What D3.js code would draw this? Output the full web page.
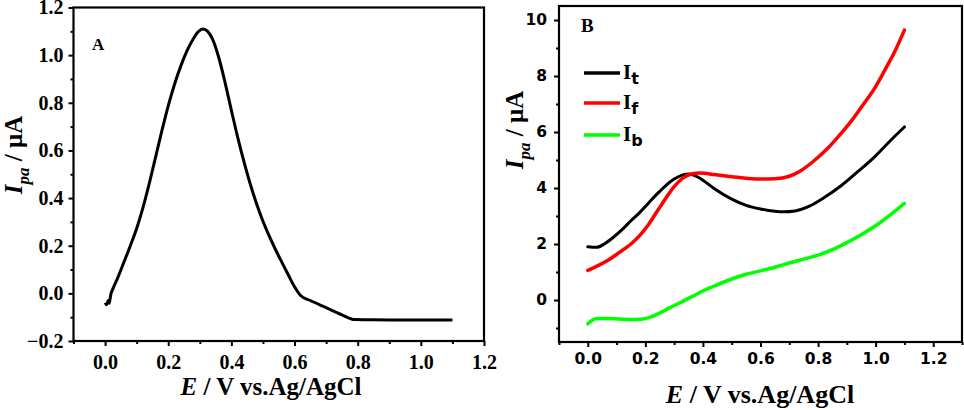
<!DOCTYPE html>
<html><head><meta charset="utf-8">
<script src="https://cdn.jsdelivr.net/npm/d3@7"></script>
<style>
html,body{margin:0;padding:0;background:#fff;}
svg{display:block;}
</style></head>
<body>
<svg id="chart" width="964" height="410"></svg>
<script>
// ---------- Panel A data ----------
const aE = [0.000,0.005,0.010,0.013,0.018,0.025,0.040,0.060,0.080,0.100,0.120,0.140,0.160,0.180,0.200,0.220,0.240,0.260,0.280,0.295,0.310,0.325,0.340,0.360,0.380,0.400,0.420,0.440,0.460,0.480,0.500,0.520,0.540,0.560,0.580,0.600,0.620,0.650,0.700,0.750,0.790,0.850,0.950,1.100];
const aI = [-0.040,-0.048,-0.030,-0.042,-0.005,0.020,0.065,0.132,0.200,0.272,0.360,0.462,0.572,0.683,0.787,0.878,0.955,1.020,1.070,1.098,1.110,1.100,1.068,0.990,0.885,0.768,0.655,0.552,0.458,0.375,0.303,0.240,0.183,0.130,0.078,0.028,-0.010,-0.030,-0.060,-0.090,-0.110,-0.111,-0.112,-0.112];

// ---------- Panel B data ----------
const tE = [0,0.03,0.06,0.09,0.12,0.15,0.18,0.21,0.24,0.27,0.30,0.33,0.35,0.37,0.40,0.44,0.50,0.55,0.60,0.65,0.68,0.72,0.77,0.82,0.88,0.94,1.00,1.05,1.10];
const tI = [1.90,1.88,2.02,2.25,2.52,2.83,3.12,3.45,3.78,4.08,4.32,4.47,4.50,4.45,4.28,3.97,3.60,3.38,3.25,3.17,3.15,3.18,3.35,3.65,4.08,4.60,5.15,5.68,6.18];

const fE = [0,0.03,0.07,0.11,0.15,0.18,0.21,0.24,0.27,0.30,0.33,0.36,0.39,0.44,0.50,0.55,0.60,0.65,0.70,0.74,0.78,0.83,0.88,0.92,0.95,1.00,1.04,1.07,1.10];
const fI = [1.06,1.20,1.42,1.70,2.00,2.30,2.68,3.15,3.62,4.05,4.35,4.50,4.54,4.48,4.40,4.35,4.32,4.33,4.42,4.62,4.92,5.38,5.95,6.45,6.88,7.62,8.36,8.95,9.64];

const bE = [0,0.015,0.035,0.07,0.11,0.15,0.19,0.22,0.25,0.28,0.32,0.36,0.40,0.44,0.50,0.55,0.60,0.65,0.70,0.75,0.80,0.85,0.90,0.95,1.00,1.05,1.10];
const bI = [-0.85,-0.72,-0.66,-0.66,-0.68,-0.70,-0.68,-0.60,-0.47,-0.30,-0.10,0.11,0.32,0.50,0.75,0.92,1.04,1.17,1.32,1.46,1.60,1.80,2.05,2.33,2.65,3.03,3.45];

// ---------- ticks ----------
const aXTicks = [0,0.2,0.4,0.6,0.8,1.0,1.2];
const aXMinor = [-0.1,0.1,0.3,0.5,0.7,0.9,1.1];
const aYTicks = [-0.2,0,0.2,0.4,0.6,0.8,1.0,1.2];
const aYMinor = [-0.1,0.1,0.3,0.5,0.7,0.9,1.1];
const bXTicks = [0,0.2,0.4,0.6,0.8,1.0,1.2];
const bXMinor = [-0.1,0.1,0.3,0.5,0.7,0.9,1.1,1.3];
const bYTicks = [0,2,4,6,8,10];
const bYMinor = [-1,1,3,5,7,9];

const legendNames = ["t","f","b"];
const legendColors = ["#000000","#ff0000","#00ff00"];

const svg = d3.select("#chart");
const SERIF = "'Liberation Serif','Times New Roman',serif";
const SANS = "'DejaVu Sans',Verdana,sans-serif";

function zip(xs, ys){ return xs.map((x,i)=>[x, ys[i]]); }

function drawPanel(cfg){
  const g = svg.append("g");
  const x = d3.scaleLinear().domain(cfg.xDom).range([cfg.left, cfg.right]);
  const y = d3.scaleLinear().domain(cfg.yDom).range([cfg.bottom, cfg.top]);

  const xMinorAxis = d3.axisBottom(x).tickValues(cfg.xMinor).tickSize(3).tickFormat("");
  const yMinorAxis = d3.axisLeft(y).tickValues(cfg.yMinor).tickSize(3).tickFormat("");
  g.append("g").attr("transform",`translate(0,${cfg.bottom})`).call(xMinorAxis)
    .call(s=>s.select(".domain").remove()).selectAll("line").attr("stroke","#000").attr("stroke-width",2);
  g.append("g").attr("transform",`translate(${cfg.left},0)`).call(yMinorAxis)
    .call(s=>s.select(".domain").remove()).selectAll("line").attr("stroke","#000").attr("stroke-width",2);

  const xAxis = d3.axisBottom(x).tickValues(cfg.xTicks).tickSize(5).tickSizeOuter(0).tickPadding(cfg.xPad).tickFormat(d3.format(".1f"));
  const yAxis = d3.axisLeft(y).tickValues(cfg.yTicks).tickSize(5).tickSizeOuter(0).tickPadding(cfg.yPad).tickFormat(cfg.yFmt);
  const gx = g.append("g").attr("transform",`translate(0,${cfg.bottom})`).call(xAxis);
  const gy = g.append("g").attr("transform",`translate(${cfg.left},0)`).call(yAxis);
  [gx,gy].forEach(a=>{
    a.attr("font-size",null).attr("font-family",null);
    a.select(".domain").remove();
    a.selectAll("line").attr("stroke","#000").attr("stroke-width",2);
    a.selectAll("text").attr("fill","#000")
      .style("font-family",cfg.tickFont).style("font-size",cfg.tickSize+"px").style("font-weight","bold");
  });

  g.append("rect").attr("x",cfg.left).attr("y",cfg.top)
    .attr("width",cfg.right-cfg.left).attr("height",cfg.bottom-cfg.top)
    .attr("fill","none").attr("stroke","#000").attr("stroke-width",2.2);

  return {g,x,y};
}

// ---------- Panel A ----------
const A = drawPanel({
  xDom:[-0.1,1.2], yDom:[-0.2,1.2], left:73.5, right:484, top:7.5, bottom:341,
  xTicks:aXTicks, xMinor:aXMinor, yTicks:aYTicks, yMinor:aYMinor,
  xPad:9, yPad:5, yFmt:d3.format(".1f"), tickFont:SERIF, tickSize:20
});
A.g.append("path").datum(zip(aE,aI))
  .attr("d", d3.line().x(d=>A.x(d[0])).y(d=>A.y(d[1])).curve(d3.curveMonotoneX))
  .attr("fill","none").attr("stroke","#000").attr("stroke-width",3).attr("stroke-linejoin","round");
A.g.append("text").attr("x",92).attr("y",50).text("A")
  .attr("font-family",SERIF).attr("font-weight","bold").attr("font-size",17);

// ---------- Panel B ----------
const B = drawPanel({
  xDom:[-0.1,1.3], yDom:[-1.5,10.5], left:559, right:962, top:6, bottom:342,
  xTicks:bXTicks, xMinor:bXMinor, yTicks:bYTicks, yMinor:bYMinor,
  xPad:6, yPad:7, yFmt:d3.format("d"), tickFont:SANS, tickSize:15.5
});
const seriesB = [zip(tE,tI), zip(fE,fI), zip(bE,bI)];
const lineB = d3.line().x(d=>B.x(d[0])).y(d=>B.y(d[1])).curve(d3.curveMonotoneX);
B.g.selectAll("path.series").data(seriesB).join("path").attr("class","series")
  .attr("d", lineB).attr("fill","none")
  .attr("stroke",(d,i)=>legendColors[i]).attr("stroke-width",(d,i)=>i===0?3:3.5)
  .attr("stroke-linejoin","round").attr("stroke-linecap","round");
B.g.append("text").attr("x",581).attr("y",32).text("B")
  .attr("font-family",SERIF).attr("font-weight","bold").attr("font-size",19);

// legend
const legY = [73,103,135];
legendNames.forEach((n,i)=>{
  B.g.append("line").attr("x1",584).attr("x2",620).attr("y1",legY[i]).attr("y2",legY[i])
    .attr("stroke",legendColors[i]).attr("stroke-width",3.5);
  const t = B.g.append("text").attr("x",623).attr("y",legY[i]+6)
    .attr("font-weight","bold").attr("fill","#000");
  t.append("tspan").text("I").attr("font-family",SERIF).attr("font-size",21);
  t.append("tspan").text(n).attr("font-family",SANS).attr("font-size",16).attr("dy",5);
});

// axis titles
function xTitle(cx, cy, size){
  const t = svg.append("text").attr("x",cx).attr("y",cy).attr("text-anchor","middle")
    .attr("font-family",SERIF).attr("font-weight","bold").attr("font-size",size);
  t.append("tspan").text("E").attr("font-style","italic");
  t.append("tspan").text(" / V vs.Ag/AgCl");
}
function yTitle(cx, cy, size){
  const t = svg.append("text").attr("transform",`translate(${cx},${cy}) rotate(-90)`)
    .attr("text-anchor","middle").attr("font-family",SERIF).attr("font-weight","bold").attr("font-size",size);
  t.append("tspan").text("I").attr("font-style","italic");
  t.append("tspan").text("pa").attr("font-style","italic").attr("font-size",size*0.68).attr("dy",size*0.28);
  t.append("tspan").text(" / μA").attr("dy",-size*0.28);
}
xTitle(271, 395, 25);
xTitle(760, 403, 26);
yTitle(22, 155, 25);
yTitle(523, 130, 25);
</script>
</body></html>
